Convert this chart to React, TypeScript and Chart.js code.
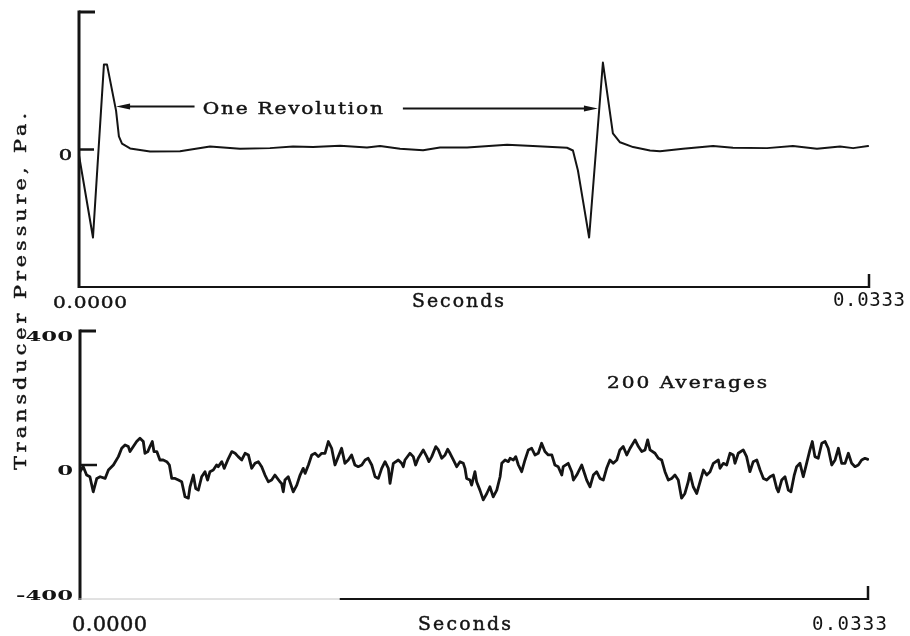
import React, { useEffect, useRef } from "react";
import { Chart, registerables } from "chart.js";

Chart.register(...registerables);

// ---------------- data ----------------
const X_MIN_S = 0;
const X_MAX_S = 0.0333;
const X_TICK_LABELS = ["0.0000", "0.0333"];
const X_TITLE = "Seconds";
const Y_TITLE = "Transducer Pressure, Pa.";
const Y_MIN = -400;
const Y_MAX = 400;
const TOP_Y_TICK_VALUES = [0];
const TOP_Y_TICK_LABELS = ["0"];
const BOTTOM_Y_TICK_VALUES = [400, 0, -400];
const BOTTOM_Y_TICK_LABELS = ["400", "0", "-400"];
const TOP_NOTE = "One Revolution";
const BOTTOM_NOTE = "200 Averages";

// single revolution trace (time in ms, pressure)
const TOP_TIME_MS = [
  0, 0.63, 1.09, 1.22, 1.6, 1.72, 1.85, 2.19, 3.03, 4.29,
  5.55, 6.81, 8.07, 9.04, 9.88, 11.02, 12.15, 12.7, 13.54, 14.51,
  15.22, 16.36, 18.04, 19.13, 20.56, 20.81, 21.02, 21.23, 21.49, 22.07,
  22.49, 22.79, 23.34, 24.05, 24.47, 25.44, 26.7, 27.54, 28.97, 30.06,
  31.07, 32.04, 32.59, 33.22,
];
const TOP_PRESSURE = [
  0, -256, 247, 247, 113, 38, 17, 3, -6, -5,
  9, 2, 4, 9, 7, 11, 6, 10, 2, -2,
  6, 6, 14, 10, 5, -3, -61, -148, -256, 253,
  47, 21, 7, -3, -5, 2, 10, 5, 4, 10,
  2, 9, 4, 10,
];

// 200-average trace (time in ms, pressure in Pa)
const BOTTOM_TIME_MS = [
  0, 0.04, 0.18, 0.32, 0.46, 0.6, 0.75, 0.89, 1.1, 1.24,
  1.45, 1.66, 1.8, 1.94, 2.08, 2.15, 2.29, 2.43, 2.57, 2.71,
  2.78, 2.9, 2.99, 3.09, 3.16, 3.28, 3.41, 3.55, 3.7, 3.81,
  3.91, 4.05, 4.19, 4.33, 4.47, 4.61, 4.68, 4.82, 4.92, 5.03,
  5.17, 5.31, 5.42, 5.52, 5.66, 5.8, 5.87, 6.02, 6.12, 6.27,
  6.44, 6.58, 6.71, 6.86, 7.0, 7.14, 7.28, 7.42, 7.56, 7.7,
  7.84, 7.98, 8.12, 8.26, 8.47, 8.54, 8.61, 8.68, 8.82, 9.03,
  9.18, 9.32, 9.45, 9.53, 9.67, 9.81, 9.95, 10.09, 10.23, 10.37,
  10.51, 10.65, 10.79, 10.93, 11.07, 11.21, 11.35, 11.49, 11.63, 11.77,
  11.92, 12.06, 12.19, 12.34, 12.48, 12.62, 12.76, 12.9, 13.04, 13.11,
  13.25, 13.46, 13.6, 13.67, 13.74, 13.95, 14.09, 14.19, 14.3, 14.51,
  14.66, 14.75, 14.87, 15.04, 15.15, 15.29, 15.43, 15.54, 15.64, 15.78,
  15.92, 16.06, 16.2, 16.27, 16.34, 16.48, 16.55, 16.69, 16.76, 16.9,
  17.04, 17.19, 17.32, 17.46, 17.61, 17.75, 17.82, 17.96, 18.1, 18.17,
  18.31, 18.41, 18.52, 18.66, 18.8, 18.94, 19.08, 19.22, 19.36, 19.5,
  19.64, 19.78, 19.93, 20.06, 20.2, 20.35, 20.41, 20.62, 20.77, 20.84,
  20.98, 21.19, 21.33, 21.4, 21.54, 21.68, 21.82, 21.96, 22.1, 22.24,
  22.38, 22.52, 22.67, 22.8, 22.94, 23.09, 23.23, 23.44, 23.58, 23.72,
  23.86, 23.97, 24.07, 24.28, 24.42, 24.56, 24.7, 24.84, 24.98, 25.12,
  25.26, 25.4, 25.54, 25.68, 25.75, 25.89, 26.04, 26.18, 26.32, 26.46,
  26.6, 26.74, 26.95, 27.02, 27.16, 27.3, 27.44, 27.58, 27.65, 27.79,
  28.0, 28.14, 28.28, 28.42, 28.57, 28.71, 28.85, 28.99, 29.13, 29.27,
  29.41, 29.48, 29.62, 29.76, 29.9, 30.01, 30.15, 30.25, 30.39, 30.53,
  30.67, 30.81, 30.91, 31.02, 31.16, 31.31, 31.45, 31.58, 31.73, 31.87,
  32.01, 32.15, 32.29, 32.43, 32.57, 32.71, 32.85, 32.99, 33.13, 33.25,
];
const BOTTOM_PRESSURE = [
  -5, -20, -5, -30, -35, -80, -40, -35, -40, -15,
  0, 25, 50, 60, 55, 40, 55, 70, 80, 70,
  35, 40, 55, 70, 40, 40, 15, 15, 10, 0,
  -40, -40, -45, -50, -95, -99, -65, -30, -70, -75,
  -35, -20, -45, -20, -15, 0, -5, 10, -10, 15,
  40, 35, 25, 15, 35, 30, -10, 5, 10, -5,
  -30, -50, -45, -30, -50, -55, -80, -45, -35, -80,
  -60, -30, -10, -25, 0, 30, 35, 25, 35, 35,
  70, 50, 0, 25, 50, 5, 15, 30, 0, -5,
  0, 15, 20, 0, -35, -40, -10, 10, -10, -55,
  5, 15, 5, -5, 15, 35, 25, 0, 20, 45,
  25, 10, 25, 55, 45, 20, 30, 47, 35, 15,
  -5, 10, 5, -10, -40, -45, -60, -20, -50, -75,
  -104, -85, -65, -95, -75, -35, 5, 15, 10, 20,
  15, 25, 0, -20, 15, 45, 50, 30, 35, 65,
  40, 30, 30, 0, -5, -30, -5, 5, -20, -45,
  -30, 0, -30, -45, -65, -30, -20, -40, -45, -10,
  15, 5, 15, 45, 55, 30, 50, 75, 55, 40,
  45, 75, 45, 35, 20, 15, -20, -45, -40, -30,
  -45, -99, -85, -50, -25, -65, -85, -50, -15, -30,
  -20, 5, 15, -10, 5, 0, 35, 30, 5, 35,
  45, 25, -20, 10, 15, -15, -40, -45, -35, -30,
  -70, -80, -45, -35, -75, -80, -30, -5, 5, -35,
  5, 45, 70, 25, 20, 65, 70, 50, 0, 15,
  50, 5, 5, 35, 5, -5, 0, 15, 20, 17,
];

// annotation anchors (data coordinates)
const ARROW_LEFT_TIP_MS = 1.6;
const ARROW_LEFT_TAIL_MS = 4.9;
const NOTE_TOP_START_MS = 5.25;
const ARROW_RIGHT_TAIL_MS = 13.66;
const ARROW_RIGHT_TIP_MS = 21.86;
const ARROW_LEVEL = 125;
const NOTE_BOTTOM_START_MS = 22.26;
const NOTE_BOTTOM_LEVEL = 230;

// ---------------- drawing ----------------
type Kind = "top" | "bottom";
const INK = "#141414";
const SERIF = '"DejaVu Serif", "Liberation Serif", serif';
const SANSMONO = '"DejaVu Sans Mono", monospace';

function seg(ctx: any, x1: number, y1: number, x2: number, y2: number, w: number, color = INK) {
  ctx.beginPath();
  ctx.moveTo(x1, y1);
  ctx.lineTo(x2, y2);
  ctx.lineWidth = w;
  ctx.strokeStyle = color;
  ctx.stroke();
}

function setSpacing(ctx: any, px: number) {
  try {
    ctx.letterSpacing = px + "px";
  } catch (e) {}
}

// typewriter-like text: widened glyphs, spaced to fill a target width, starting at x (left)
function spacedText(
  ctx: any,
  s: string,
  x: number,
  y: number,
  font: string,
  width: number,
  rot = 0,
  sx = 1.22,
  weight = 0.45
) {
  ctx.save();
  ctx.font = font;
  setSpacing(ctx, 0);
  const nat = ctx.measureText(s).width;
  const sp = s.length > 1 ? (width / sx - nat) / (s.length - 1) : 0;
  setSpacing(ctx, sp);
  ctx.textAlign = "left";
  ctx.textBaseline = "alphabetic";
  ctx.fillStyle = INK;
  ctx.strokeStyle = INK;
  ctx.lineJoin = "round";
  ctx.translate(x, y);
  if (rot) ctx.rotate(rot);
  ctx.scale(sx, 1);
  ctx.fillText(s, 0, 0);
  if (weight > 0) {
    ctx.lineWidth = weight;
    ctx.strokeText(s, 0, 0);
  }
  ctx.restore();
}

// draw text horizontally scaled, right edge at x
function scaledRight(ctx: any, s: string, x: number, y: number, font: string, sx: number, weight = 0) {
  ctx.save();
  ctx.font = font;
  setSpacing(ctx, 0);
  ctx.textAlign = "right";
  ctx.textBaseline = "alphabetic";
  ctx.fillStyle = INK;
  ctx.strokeStyle = INK;
  ctx.translate(x, y);
  ctx.scale(sx, 1);
  ctx.fillText(s, 0, 0);
  if (weight > 0) {
    ctx.lineWidth = weight;
    ctx.strokeText(s, 0, 0);
  }
  ctx.restore();
}

function arrowHead(ctx: any, tipX: number, y: number, dir: number) {
  ctx.beginPath();
  ctx.moveTo(tipX, y);
  ctx.lineTo(tipX - dir * 14, y - 3);
  ctx.lineTo(tipX - dir * 14, y + 3);
  ctx.closePath();
  ctx.fillStyle = INK;
  ctx.fill();
}

function decorPlugin(kind: Kind) {
  return {
    id: "decor_" + kind,
    afterDatasetsDraw(chart: any) {
      const { ctx, chartArea: a, scales } = chart;
      const xs = scales.x;
      const ys = scales.y;
      const isTop = kind === "top";
      ctx.save();
      ctx.lineCap = "butt";

      const axisX = a.left + 1;
      // y axis line and ticks
      seg(ctx, axisX, a.top - 1.5, axisX, a.bottom + 1, 3);
      seg(ctx, axisX, a.top, axisX + 16, a.top, 3);
      const y0 = ys.getPixelForValue(0);
      seg(ctx, axisX, y0, axisX + (isTop ? 15 : 17), y0, 2.5);

      // x axis line
      if (isTop) {
        seg(ctx, a.left, a.bottom, a.right, a.bottom, 2);
      } else {
        const split = a.left + (a.right - a.left) * 0.33;
        seg(ctx, a.left, a.bottom, split, a.bottom, 1, "#c4c4c4");
        seg(ctx, split, a.bottom, a.right, a.bottom, 2);
      }
      // right end tick
      seg(ctx, a.right - 1, a.bottom - 13, a.right - 1, a.bottom + 1, 2.5);

      // y tick labels (wide typewriter digits)
      const vals = isTop ? TOP_Y_TICK_VALUES : BOTTOM_Y_TICK_VALUES;
      const labs = isTop ? TOP_Y_TICK_LABELS : BOTTOM_Y_TICK_LABELS;
      vals.forEach((v, i) => {
        const p = ys.getPixelForValue(v);
        const base = Math.min(p + 10, a.bottom + 1);
        if (isTop) scaledRight(ctx, labs[i], a.left - 6, base, "14px " + SERIF, 1.5, 0.5);
        else scaledRight(ctx, labs[i], a.left - 6, base, "bold 13px " + SERIF, 1.75);
      });

      // x tick labels and title
      const xl = xs.getPixelForValue(X_MIN_S);
      const xr = xs.getPixelForValue(X_MAX_S);
      if (isTop) {
        spacedText(ctx, X_TICK_LABELS[0], xl - 25, a.bottom + 21, "17.5px " + SERIF, 74, 0, 1.15);
        spacedText(ctx, X_TICK_LABELS[1], xr - 37, a.bottom + 19, "19px " + SANSMONO, 72, 0, 1, 0);
        spacedText(ctx, X_TITLE, xl + 334, a.bottom + 20, "18.5px " + SERIF, 92, 0, 1.02);
      } else {
        spacedText(ctx, X_TICK_LABELS[0], xl - 7, a.bottom + 32, "20px " + SERIF, 75, 0, 1.05);
        spacedText(ctx, X_TICK_LABELS[1], xr - 57, a.bottom + 31, "19px " + SANSMONO, 75, 0, 1, 0);
        spacedText(ctx, X_TITLE, xl + 339, a.bottom + 31, "18.5px " + SERIF, 93, 0, 1.02);
      }

      if (isTop) {
        // "One Revolution" with arrows
        const ya = ys.getPixelForValue(ARROW_LEVEL);
        const lTip = xs.getPixelForValue(ARROW_LEFT_TIP_MS / 1000);
        const lTail = xs.getPixelForValue(ARROW_LEFT_TAIL_MS / 1000);
        seg(ctx, lTail, ya, lTip + 8, ya, 2);
        arrowHead(ctx, lTip, ya, -1);
        const rTail = xs.getPixelForValue(ARROW_RIGHT_TAIL_MS / 1000);
        const rTip = xs.getPixelForValue(ARROW_RIGHT_TIP_MS / 1000);
        seg(ctx, rTail, ya + 2, rTip - 8, ya + 2, 2);
        arrowHead(ctx, rTip, ya + 2, 1);
        const tx = xs.getPixelForValue(NOTE_TOP_START_MS / 1000);
        spacedText(ctx, TOP_NOTE, tx, ya + 7, "16.5px " + SERIF, 180);
      } else {
        const nx = xs.getPixelForValue(NOTE_BOTTOM_START_MS / 1000);
        const ny = ys.getPixelForValue(NOTE_BOTTOM_LEVEL);
        spacedText(ctx, BOTTOM_NOTE, nx, ny, "16.5px " + SERIF, 160);
        // shared y-axis title, reading bottom to top
        spacedText(ctx, Y_TITLE, 26, 470, "17px " + SERIF, 357, -Math.PI / 2);
      }
      ctx.restore();
    },
  };
}

function buildConfig(kind: Kind): any {
  const isTop = kind === "top";
  const times = isTop ? TOP_TIME_MS : BOTTOM_TIME_MS;
  const values = isTop ? TOP_PRESSURE : BOTTOM_PRESSURE;
  const points = times.map((t, i) => ({ x: t / 1000, y: values[i] }));
  return {
    type: "line",
    data: {
      datasets: [
        {
          data: points,
          borderColor: INK,
          borderWidth: isTop ? 2 : 2.8,
          pointRadius: 0,
          tension: 0,
          fill: false,
          borderJoinStyle: "round",
          borderCapStyle: "round",
        },
      ],
    },
    options: {
      responsive: false,
      animation: false,
      devicePixelRatio: 1,
      events: [],
      layout: {
        autoPadding: false,
        padding: isTop
          ? { left: 78, right: 40, top: 12, bottom: 349 }
          : { left: 79, right: 41, top: 331, bottom: 37 },
      },
      plugins: {
        legend: { display: false },
        tooltip: { enabled: false },
        title: { display: false },
      },
      scales: {
        x: { type: "linear", min: X_MIN_S, max: X_MAX_S, display: false },
        y: { type: "linear", min: Y_MIN, max: Y_MAX, display: false },
      },
    },
    plugins: [decorPlugin(kind)],
  };
}

function Panel({ kind }: { kind: Kind }) {
  const ref = useRef<HTMLCanvasElement | null>(null);
  useEffect(() => {
    if (!ref.current) return;
    const chart = new Chart(ref.current, buildConfig(kind));
    return () => chart.destroy();
  }, [kind]);
  return (
    <canvas
      ref={ref}
      width={910}
      height={636}
      style={{ position: "absolute", left: 0, top: 0, width: 910, height: 636 }}
    />
  );
}

export default function App() {
  return (
    <div
      style={{
        position: "fixed",
        left: 0,
        top: 0,
        width: 910,
        height: 636,
        background: "#ffffff",
        overflow: "hidden",
      }}
    >
      <Panel kind="top" />
      <Panel kind="bottom" />
    </div>
  );
}
